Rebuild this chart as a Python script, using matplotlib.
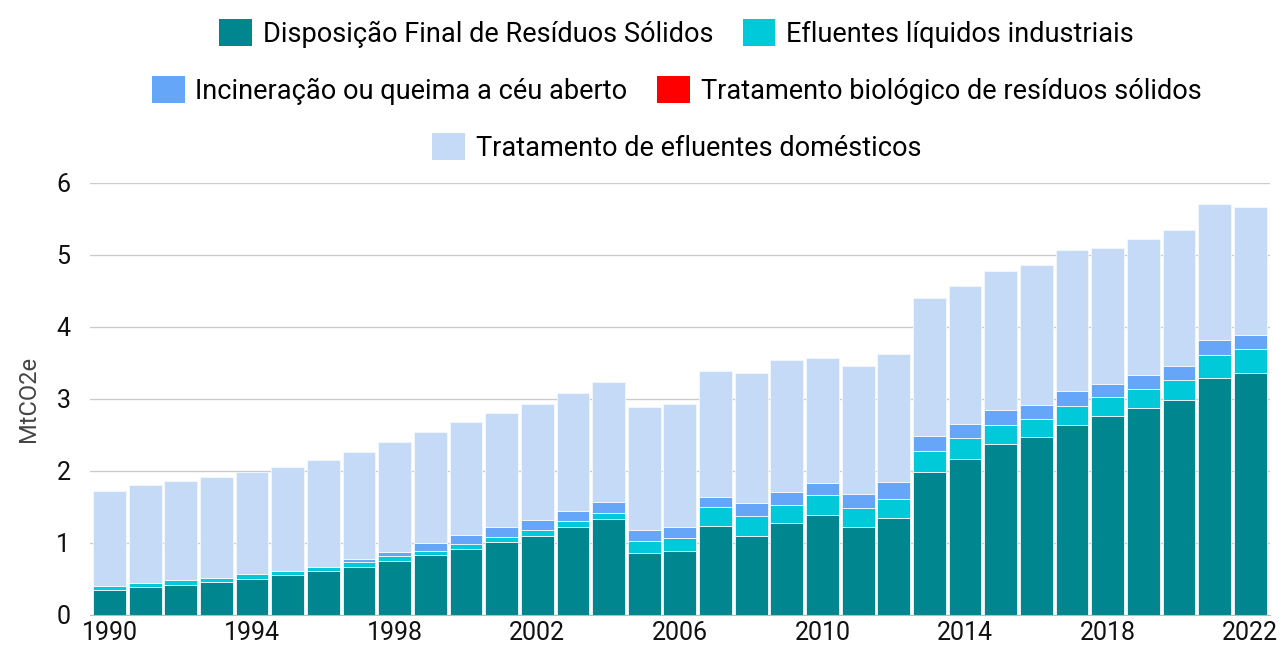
import numpy as np
from matplotlib import pyplot as plt
from matplotlib.patches import Patch

years = list(range(1990, 2023))

# values (MtCO2e)
disposicao = [0.35, 0.39, 0.42, 0.46, 0.50, 0.56, 0.61, 0.67, 0.755, 0.83, 0.92,
              1.01, 1.10, 1.22, 1.33, 0.86, 0.89, 1.24, 1.10, 1.28, 1.39, 1.22,
              1.35, 1.99, 2.17, 2.38, 2.47, 2.64, 2.76, 2.875, 2.99, 3.29, 3.36]
efluentes_ind = [0.05, 0.06, 0.065, 0.055, 0.07, 0.055, 0.055, 0.07, 0.065, 0.06, 0.07,
                 0.07, 0.08, 0.085, 0.085, 0.17, 0.18, 0.26, 0.28, 0.25, 0.28, 0.265,
                 0.26, 0.28, 0.29, 0.26, 0.25, 0.26, 0.27, 0.265, 0.27, 0.32, 0.33]
incineracao = [0.0, 0.0, 0.0, 0.0, 0.0, 0.0, 0.0, 0.03, 0.06, 0.11, 0.12,
               0.14, 0.14, 0.135, 0.155, 0.15, 0.15, 0.14, 0.18, 0.18, 0.165, 0.195,
               0.237, 0.22, 0.19, 0.21, 0.20, 0.21, 0.18, 0.19, 0.20, 0.20, 0.20]
biologico = [0.0] * 33
totais = [1.72, 1.80, 1.86, 1.91, 1.99, 2.06, 2.15, 2.26, 2.40, 2.54, 2.68,
          2.81, 2.93, 3.08, 3.24, 2.88, 2.93, 3.39, 3.36, 3.54, 3.57, 3.46,
          3.62, 4.40, 4.57, 4.78, 4.86, 5.06, 5.10, 5.22, 5.35, 5.71, 5.67]

# domestic effluent layer = total minus the other layers
domesticos = [t - a - b - c - d for t, a, b, c, d in
              zip(totais, disposicao, efluentes_ind, incineracao, biologico)]

series = [
    ("Disposição Final de Resíduos Sólidos", disposicao, "#00868F"),
    ("Efluentes líquidos industriais", efluentes_ind, "#00C9DA"),
    ("Incineração ou queima a céu aberto", incineracao, "#66A6F8"),
    ("Tratamento biológico de resíduos sólidos", biologico, "#FF0000"),
    ("Tratamento de efluentes domésticos", domesticos, "#C5DAF6"),
]

plt.rcParams['font.family'] = ['Roboto', 'DejaVu Sans']

fig = plt.figure(figsize=(12.84, 6.48), dpi=100)
ax = fig.add_axes([0.070, 0.051, 0.919, 0.667])

x = np.arange(len(years))
bottom = np.zeros(len(years))
for name, vals, color in series:
    vals = np.array(vals)
    ax.bar(x, vals, bottom=bottom, width=0.92, color=color,
           edgecolor="#f4f8fd", linewidth=0.6)
    bottom += vals

ax.set_xlim(-0.55, len(years) - 0.45)
ax.set_ylim(0, 6)
ax.set_yticks(range(0, 7))
ax.tick_params(axis='y', length=0, labelsize=18, pad=14, colors="#111111")
ax.set_xticks(x[::4])
ax.set_xticklabels([str(y) for y in years[::4]])
ax.tick_params(axis='x', length=0, labelsize=18, pad=4, colors="#111111")
ax.grid(axis='y', color="#cccccc", linewidth=1)
ax.set_axisbelow(True)
for s in ['top', 'right', 'left']:
    ax.spines[s].set_visible(False)
ax.spines['bottom'].set_color("#bbbbbb")
ax.set_ylabel("MtCO2e", fontsize=17, color="#444444", labelpad=12)

handles = [Patch(facecolor=c, edgecolor='none', label=n) for n, _, c in series]
rows = [handles[0:2], handles[2:4], handles[4:5]]
ys = [0.949, 0.861, 0.773]
for row, yy in zip(rows, ys):
    fig.legend(handles=row, loc='center', bbox_to_anchor=(0.527, yy),
               ncol=len(row), frameon=False, fontsize=19.5,
               handlelength=1.2, handleheight=1.2, handletextpad=0.4,
               columnspacing=1.1, borderaxespad=0)

fig.savefig("out.png", dpi=100)
